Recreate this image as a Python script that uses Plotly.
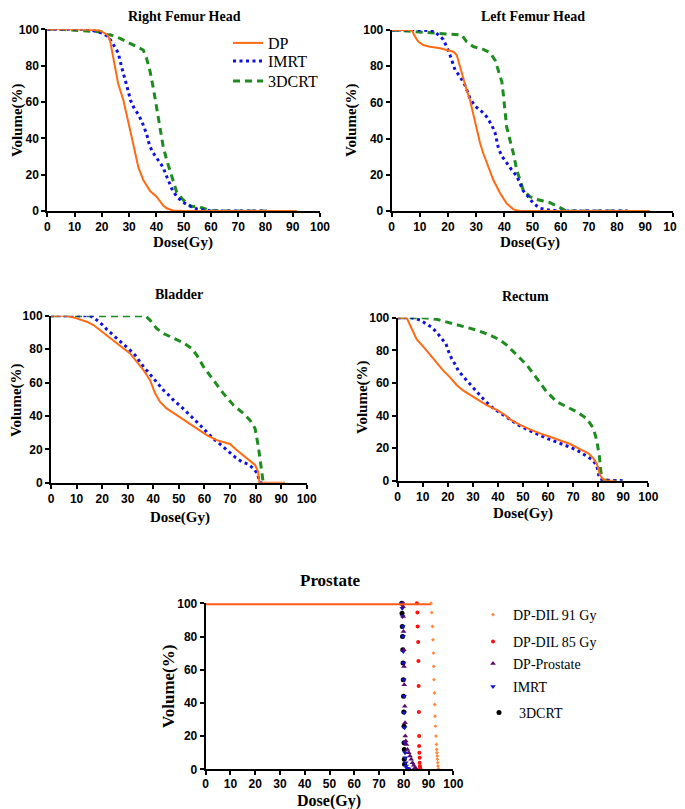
import plotly.graph_objects as go

# ---------------- data ----------------
# Right Femur Head
rf_dp_dose = [0, 10, 19, 22, 23, 24.2, 26, 27.9, 29.7, 31.5, 33.4, 35.2, 37.7, 40, 42.5, 43.8, 46, 50, 60, 91.5]
rf_dp_vol = [100, 100, 99.5, 97, 94, 85, 70, 61, 48, 37, 24, 17, 11, 8, 3, 1.5, 0.3, 0, 0, 0]
rf_imrt_dose = [0, 10, 15, 20, 22.4, 24.5, 26, 27.3, 28.5, 29.5, 30.5, 32, 33.5, 35, 36.5, 37.5, 38.8, 40.5, 42.5, 43.5, 44.8, 46, 47.5, 49.5, 52, 55, 58, 62, 80.5]
rf_imrt_vol = [100, 100, 100, 98, 96, 91, 87, 79, 73, 67, 61, 56, 53, 48, 42, 36, 32, 28, 24, 20, 15, 11, 8, 5, 3, 1, 0.3, 0, 0]
rf_3d_dose = [0, 5, 10, 15, 20, 22, 23, 26.7, 31.5, 35.2, 36.4, 37.7, 38.9, 40, 41.3, 42.5, 43.8, 45, 46.2, 47.4, 49.3, 51.1, 53, 55, 57.2, 59.7, 65, 81.7]
rf_3d_vol = [100, 100, 99.5, 99, 98.5, 97, 97, 95, 91.4, 88.6, 84, 76.7, 67.5, 57.4, 44.6, 35.4, 28, 22.6, 16, 10.6, 7, 4.2, 2.4, 2.7, 1.5, 0.2, 0, 0]

# Left Femur Head
lf_dp_dose = [0, 7.1, 8.3, 9.5, 11.2, 13.6, 17.2, 19.5, 21.9, 23.1, 24.3, 25.4, 26.6, 27.8, 29, 30.2, 31.4, 32.5, 34.3, 36.1, 38.5, 40.8, 43.2, 45.6, 91.7]
lf_dp_vol = [100, 100, 96.3, 93.5, 91.7, 90.8, 89.9, 89, 88, 86.2, 79.7, 72.4, 66.9, 61.3, 53, 44.8, 37.4, 31.9, 24.5, 17.1, 9.8, 4.2, 0.9, 0, 0]
lf_imrt_dose = [0, 10, 15, 18.3, 19.5, 20.7, 22.5, 24.3, 26, 27.8, 29.6, 32, 33.7, 35.5, 36.7, 37.9, 39.1, 40.8, 42.6, 44.4, 45.6, 46.7, 48.5, 50.3, 52.7, 55.6, 60, 85]
lf_imrt_vol = [100, 100, 99.5, 94.8, 90.8, 86.2, 77.9, 74.2, 69.6, 62.2, 58, 54.9, 52.1, 47.5, 43.3, 34.6, 30.4, 26.3, 22.7, 19.3, 15.3, 11.2, 7.9, 4.2, 1.5, 0.6, 0, 0]
lf_3d_dose = [0, 10, 14.8, 20.7, 24.9, 26.6, 29, 32.5, 34.9, 36.7, 37.9, 39.1, 39.6, 40.2, 40.8, 42, 43.2, 44.4, 45.6, 46.7, 49.1, 51.5, 53.8, 56.2, 58.6, 60.9, 62.1, 82]
lf_3d_vol = [100, 99, 98.5, 98, 97.2, 93.5, 90.8, 89.3, 87.5, 83.4, 77.9, 71.5, 65, 55.8, 46.6, 39.2, 31.9, 22.7, 16.2, 11.6, 7.9, 6.4, 5.5, 4.6, 2.8, 0.9, 0, 0]

# Bladder
bl_dp_dose = [0, 6.1, 10, 14, 16.6, 19.2, 23.1, 27, 30.9, 33.5, 36.1, 38.7, 40.7, 42.6, 45.2, 49.2, 53.1, 57, 60.9, 64.8, 70, 72.6, 76.5, 79.8, 81, 81.5, 91.5]
bl_dp_vol = [100, 100, 98.4, 96.4, 94.4, 91.4, 86.4, 82.4, 77.4, 72.5, 67.5, 61.5, 53.5, 48.5, 44.5, 40.5, 36.5, 32.5, 28.5, 25.5, 23.2, 19.6, 14.6, 10.6, 6.6, 0, 0]
bl_imrt_dose = [0, 15.3, 17.9, 19.8, 21.8, 24.4, 26.6, 28.7, 30.9, 32.9, 34.6, 36.4, 38.2, 40, 42, 43.9, 46.3, 48.1, 50.5, 52.4, 54.6, 56.7, 58.9, 60.9, 63.1, 65.4, 67.8, 70, 72.2, 74.6, 77.2, 79.1, 80.7, 81.7, 83]
bl_imrt_vol = [100, 100, 97.4, 95, 91.8, 88.4, 85.4, 82.8, 79.4, 76.4, 72.5, 69, 65.9, 62.5, 58.9, 55.5, 52.1, 49.1, 46.1, 43.1, 40.1, 36.9, 33.5, 30.1, 26.9, 24, 21, 18, 15, 12.6, 11, 8.6, 5.6, 0, 0]
bl_3d_dose = [0, 36.8, 38.7, 41.3, 43.9, 47.8, 51.8, 55, 57, 59.6, 63.5, 67.4, 71.3, 75.2, 77.8, 79.8, 81.1, 82, 82.7, 83]
bl_3d_vol = [100, 100, 97.4, 92.4, 89.4, 86.4, 83.8, 80.4, 76.4, 69.5, 61.5, 53.5, 46.5, 41.5, 37.5, 32.5, 21.6, 9.6, 2.6, 0]

# Rectum
re_dp_dose = [0, 3.6, 4.9, 6.3, 7.6, 10.2, 12.9, 15.6, 18.2, 20.9, 23.5, 26.2, 28.9, 31.5, 35.5, 39.5, 42.8, 44.8, 48.8, 52.8, 56.8, 60.8, 64.8, 68.8, 72.7, 76.1, 78.1, 79.4, 80, 80.7, 82, 83.4, 87]
re_dp_vol = [100, 100, 95.5, 90.4, 86.7, 82.2, 77.1, 72, 67.5, 63.4, 58.7, 55.2, 52.6, 49.9, 46.4, 43.4, 40.3, 37.6, 34.2, 31.5, 29, 27, 24.9, 22.5, 19.4, 16.8, 13.7, 10.6, 7.6, 3.5, 0.8, 0, 0]
re_imrt_dose = [0, 5.6, 8.9, 11.3, 13.6, 15.6, 17.6, 19.3, 20.2, 21.5, 22.9, 24.2, 26.2, 28.2, 30.2, 32.2, 34.2, 36.2, 38.2, 40.8, 43.1, 45.5, 48.1, 50.8, 53.5, 56.1, 58.8, 61.4, 64.1, 66.8, 69.4, 72.1, 74.7, 77.4, 79.4, 80.5, 82, 90]
re_imrt_vol = [100, 100, 98.6, 96.5, 94.1, 91, 87.3, 83.8, 79.6, 75, 71.4, 67.5, 63.8, 60.3, 56.6, 53.6, 50.1, 47, 44.4, 41.7, 39.3, 36.8, 34.2, 32.1, 30.1, 28.2, 26.4, 24.9, 23.3, 21.9, 20.2, 18.2, 15.7, 13.1, 9.6, 1.4, 0.4, 0]
re_3d_dose = [0, 10.2, 15.6, 20.9, 26.2, 31.5, 36.8, 40.8, 43.5, 47.5, 51.5, 55.5, 59.4, 63.4, 67.4, 71.4, 75.4, 78.1, 79.4, 80.5, 81, 81.5, 87.4]
re_3d_vol = [100, 100, 99, 96.9, 94.5, 92.4, 89.4, 86.3, 83.2, 77.1, 71, 62.8, 54.6, 48.5, 45.4, 42.3, 38.2, 32.1, 24.9, 14.7, 6.5, 0.4, 0]

# Prostate
pr_dil91_plateau_dose = [0, 91]
pr_dil91_plateau_vol = [100, 100]
pr_dil91_dose = [91, 91.3, 91.6, 91.8, 92, 92.1, 92.2, 92.4, 92.5, 92.6, 92.8, 93, 93.2, 93.3, 93.4, 93.5, 93.6, 93.7, 93.8, 94]
pr_dil91_vol = [100, 94.4, 86, 78, 70, 62, 54, 46, 39, 32, 26, 20, 15, 12, 10, 8, 6, 4, 2, 0.4]
pr_dil85_dose = [85.3, 85.5, 85.6, 85.8, 85.9, 86, 86.1, 86.2, 86.2, 86.3, 86.4, 86.4, 86.5, 86.6, 86.7]
pr_dil85_vol = [100, 94.4, 86, 76.7, 65.3, 50.2, 34.5, 20, 14, 10, 7, 4, 2, 1, 0.4]
pr_dpp_dose = [79.5, 79.7, 79.8, 79.9, 80, 80.1, 80.2, 80.4, 80.5, 80.6, 80.8, 81.1, 81.5, 82, 82.5, 83, 83.5, 84, 84.5, 85]
pr_dpp_vol = [100, 98, 92, 83, 72, 62, 51, 38, 28, 20, 17, 15, 12, 10, 8, 6, 4, 2.5, 1, 0.3]
pr_imrt_dose = [79.3, 79.4, 79.5, 79.6, 79.7, 79.8, 79.9, 80, 80.1, 80.2, 80.3, 80.4, 80.5, 80.6, 80.8, 81, 81.3, 81.6, 82]
pr_imrt_vol = [100, 97, 92, 86, 80, 71, 64, 54, 44, 34, 25, 16, 10, 7, 4, 2, 0.6, 0.3, 0.2]
pr_3d_dose = [79.2, 79.3, 79.4, 79.5, 79.6, 79.7, 79.8, 79.9, 80, 80.1, 80.1, 80.2, 80.2, 80.3]
pr_3d_vol = [100, 94, 86, 80, 72, 64, 54, 44, 34.5, 26, 16, 12, 6, 3]

x_ticks = list(range(0, 101, 10))
y_ticks = list(range(0, 101, 20))

# ---------------- styles ----------------
W, H = 685, 809
OFF = 8  # page body margin of the exported html
C_DP = "#FF6A13"
C_IMRT = "#1010E0"
C_3D = "#1E8C1E"
SERIF = "Liberation Serif, Times New Roman, serif"
SANS = "Liberation Sans, Arial, sans-serif"
DOT = "3px,3.5px"
DASH = "7px,5px"

def px_x(v):
    return (v - OFF) / W

def px_y(v):
    return 1 - (v - OFF) / H

# (left, right, top, bottom) pixel boxes of plot areas in the screenshot
boxes = [
    (47.3, 320.0, 29.3, 211.0),
    (391.7, 673.3, 30.0, 211.0),
    (51.0, 306.7, 315.7, 482.7),
    (397.7, 648.3, 317.7, 480.7),
    (205.7, 453.3, 603.3, 769.3),
]

fig = go.Figure()

def add_dvh(i, dose, vol, name, color, dash, width):
    suffix = "" if i == 1 else str(i)
    fig.add_trace(go.Scatter(
        x=dose, y=vol, mode="lines", name=name,
        line=dict(color=color, dash=dash, width=width),
        xaxis="x" + suffix, yaxis="y" + suffix,
        showlegend=False, cliponaxis=False,
    ))

panels = [
    (rf_dp_dose, rf_dp_vol, rf_imrt_dose, rf_imrt_vol, rf_3d_dose, rf_3d_vol),
    (lf_dp_dose, lf_dp_vol, lf_imrt_dose, lf_imrt_vol, lf_3d_dose, lf_3d_vol),
    (bl_dp_dose, bl_dp_vol, bl_imrt_dose, bl_imrt_vol, bl_3d_dose, bl_3d_vol),
    (re_dp_dose, re_dp_vol, re_imrt_dose, re_imrt_vol, re_3d_dose, re_3d_vol),
]
for k, (dd, dv, id_, iv, td, tv) in enumerate(panels):
    i = k + 1
    add_dvh(i, td, tv, "3DCRT", C_3D, DASH, 3)
    add_dvh(i, id_, iv, "IMRT", C_IMRT, DOT, 3)
    add_dvh(i, dd, dv, "DP", C_DP, "solid", 2)

# one legend per entry so that every row sits where it does in the reference
legend_layout = {}

def legend_box(key, x, y, size):
    legend_layout[key] = dict(x=px_x(x), y=px_y(y), xanchor="left", yanchor="middle",
                              font=dict(family=SERIF, size=size, color="black"),
                              bgcolor="rgba(0,0,0,0)", borderwidth=0, itemwidth=30)

top_entries = [("DP", C_DP, "solid", 2, 43), ("IMRT", C_IMRT, DOT, 3, 61), ("3DCRT", C_3D, DASH, 3, 81)]
for g, (name, color, dash, width, yy) in enumerate(top_entries):
    key = "legend" if g == 0 else "legend%d" % (g + 1)
    fig.add_trace(go.Scatter(x=[None], y=[None], mode="lines", name=name,
                             line=dict(color=color, dash=dash, width=width),
                             xaxis="x", yaxis="y", showlegend=True, legend=key))
    legend_box(key, 228, yy, 16)

# Prostate panel (axis 5)
fig.add_trace(go.Scatter(x=pr_3d_dose, y=pr_3d_vol, mode="markers", name="3DCRT",
                         marker=dict(color="#000000", size=5, symbol="circle"),
                         xaxis="x5", yaxis="y5", legend="legend8", cliponaxis=False))
legend_box("legend8", 479, 713, 14)
fig.add_trace(go.Scatter(x=pr_imrt_dose, y=pr_imrt_vol, mode="markers", name="IMRT",
                         marker=dict(color="#1515C8", size=5, symbol="triangle-down"),
                         xaxis="x5", yaxis="y5", legend="legend7", cliponaxis=False))
legend_box("legend7", 473, 687, 14)
fig.add_trace(go.Scatter(x=pr_dpp_dose, y=pr_dpp_vol, mode="markers", name="DP-Prostate",
                         marker=dict(color="#5A0A6A", size=5, symbol="triangle-up"),
                         xaxis="x5", yaxis="y5", legend="legend6", cliponaxis=False))
legend_box("legend6", 473, 664, 14)
fig.add_trace(go.Scatter(x=pr_dil85_dose, y=pr_dil85_vol, mode="markers", name="DP-DIL 85 Gy",
                         marker=dict(color="#FF1010", size=4, symbol="circle"),
                         xaxis="x5", yaxis="y5", legend="legend5", cliponaxis=False))
legend_box("legend5", 473, 642, 14)
fig.add_trace(go.Scatter(x=pr_dil91_plateau_dose, y=pr_dil91_plateau_vol, mode="lines", name="DP-DIL 91 Gy",
                         line=dict(color="#FF5A1A", width=4),
                         xaxis="x5", yaxis="y5", showlegend=False, cliponaxis=False))
fig.add_trace(go.Scatter(x=pr_dil91_dose, y=pr_dil91_vol, mode="markers", name="DP-DIL 91 Gy",
                         marker=dict(color="#FF8A3D", size=3, symbol="diamond"),
                         xaxis="x5", yaxis="y5", legend="legend4", cliponaxis=False))
legend_box("legend4", 473, 615, 14)

layout = dict(
    width=W, height=H, margin=dict(l=0, r=0, t=0, b=0, pad=0, autoexpand=False),
    paper_bgcolor="white", plot_bgcolor="white",
    showlegend=True,
    **legend_layout,
)

for k, (l, r, t, b) in enumerate(boxes):
    i = k + 1
    suffix = "" if i == 1 else str(i)
    common = dict(showgrid=False, zeroline=False, showline=True, linecolor="black", linewidth=2,
                  ticks="outside", ticklen=4, tickwidth=2, tickcolor="black",
                  tickfont=dict(family=SANS, size=12, color="black", weight="bold"),
                  fixedrange=True, automargin=False)
    xa = dict(domain=[px_x(l), px_x(r)], range=[0, 100], tickvals=x_ticks,
              anchor="y" + suffix, **common)
    if i == 5:
        xa["ticklabelstandoff"] = -2
    layout["xaxis" + suffix] = xa
    layout["yaxis" + suffix] = dict(domain=[px_y(b), px_y(t)], range=[0, 100], tickvals=y_ticks,
                                    anchor="x" + suffix, **common)

fig.update_layout(**layout)

# titles and axis titles as annotations
def ann(text, x, y, size, angle=0):
    fig.add_annotation(text="<b>" + text + "</b>", x=px_x(x), y=px_y(y), xref="paper", yref="paper",
                       showarrow=False, textangle=angle, xanchor="center", yanchor="middle",
                       font=dict(family=SERIF, size=size, color="black"))

ann("Right Femur Head", 184, 16, 14)
ann("Left Femur Head", 533, 16, 14)
ann("Bladder", 179, 294, 14)
ann("Rectum", 525, 296, 14)
ann("Prostate", 330, 580, 17)

ann("Dose(Gy)", 183, 243, 15)
ann("Dose(Gy)", 530, 243, 15)
ann("Dose(Gy)", 180, 517, 15)
ann("Dose(Gy)", 523, 513, 15)
ann("Dose(Gy)", 329, 800.5, 16)

ann("Volume(%)", 17, 120, 15, -90)
ann("Volume(%)", 351, 120, 15, -90)
ann("Volume(%)", 17, 400, 15, -90)
ann("Volume(%)", 362, 397, 15, -90)
ann("Volume(%)", 168, 687, 17, -90)

fig.write_html("out.html")
